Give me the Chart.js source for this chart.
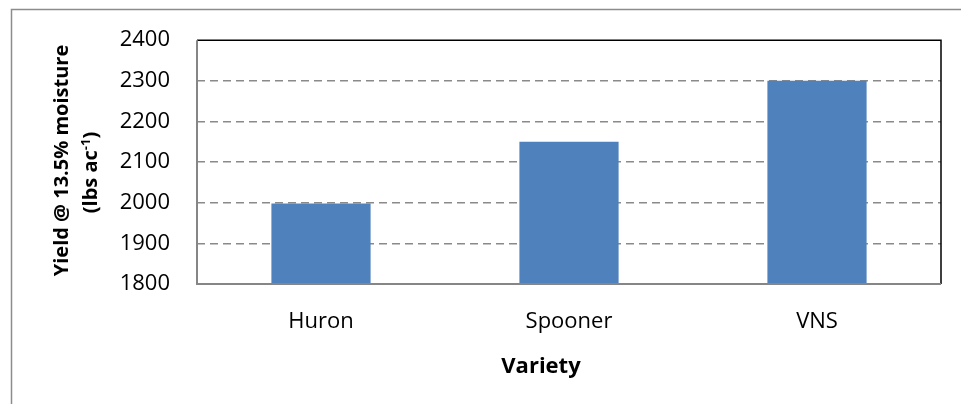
<!DOCTYPE html>
<html>
<head>
<meta charset="utf-8">
<script src="https://cdn.jsdelivr.net/npm/chart.js@4.4.0/dist/chart.umd.min.js"></script>
<style>
  html, body { margin: 0; padding: 0; background: #fff; }
  #wrap { width: 961px; height: 404px; position: relative; }
</style>
</head>
<body>
<div id="wrap"><canvas id="chart" width="961" height="404"></canvas></div>
<script>
// Chart data
const varieties = ['Huron', 'Spooner', 'VNS'];
const yieldValues = [1998, 2150, 2300];
const yMin = 1800;
const yMax = 2400;
const yStep = 100;

const FONT = '"Open Sans", sans-serif';
const GRID_GRAY = '#8a8a8a';

// Outer chart frame, cut off on the right and bottom like the original
const outerFrame = {
    id: 'outerFrame',
    beforeDraw(chart) {
        const ctx = chart.ctx;
        ctx.save();
        ctx.strokeStyle = '#8c8c8c';
        ctx.lineWidth = 1.5;
        ctx.beginPath();
        ctx.moveTo(11.5, 404);
        ctx.lineTo(11.5, 9.5);
        ctx.lineTo(961, 9.5);
        ctx.stroke();
        ctx.restore();
    }
};

// Plot area border + axis lines, and the axis titles
const plotFrame = {
    id: 'plotFrame',
    afterDraw(chart) {
        const ctx = chart.ctx;
        const a = chart.chartArea;
        ctx.save();

        // top and right border (black)
        ctx.strokeStyle = '#000';
        ctx.lineWidth = 1.5;
        ctx.beginPath();
        ctx.moveTo(a.left, a.top);
        ctx.lineTo(a.right, a.top);
        ctx.lineTo(a.right, a.bottom);
        ctx.stroke();

        // left and bottom axis lines (gray)
        ctx.strokeStyle = '#868686';
        ctx.lineWidth = 2;
        ctx.beginPath();
        ctx.moveTo(a.left, a.top);
        ctx.lineTo(a.left, a.bottom);
        ctx.lineTo(a.right, a.bottom);
        ctx.stroke();

        // x axis title
        ctx.fillStyle = '#000';
        ctx.font = 'bold 22px ' + FONT;
        ctx.textAlign = 'center';
        ctx.textBaseline = 'alphabetic';
        ctx.fillText('Variety', 541, 373);

        // y axis title, two lines, rotated
        ctx.save();
        ctx.translate(67.5, 160.5);
        ctx.rotate(-Math.PI / 2);
        ctx.font = 'bold 20px ' + FONT;
        ctx.fillText('Yield @ 13.5% moisture', 0, 0);
        ctx.restore();

        ctx.save();
        ctx.translate(97, 172.5);
        ctx.rotate(-Math.PI / 2);
        ctx.textAlign = 'left';
        const partA = '(lbs ac';
        const partSup = '-1';
        const partB = ')';
        ctx.font = 'bold 20px ' + FONT;
        const wA = ctx.measureText(partA).width;
        const wB = ctx.measureText(partB).width;
        ctx.font = 'bold 13px ' + FONT;
        const wS = ctx.measureText(partSup).width;
        let x = -(wA + wS + wB) / 2;
        ctx.font = 'bold 20px ' + FONT;
        ctx.fillText(partA, x, 0);
        x += wA;
        ctx.font = 'bold 13px ' + FONT;
        ctx.fillText(partSup, x, -7);
        x += wS;
        ctx.font = 'bold 20px ' + FONT;
        ctx.fillText(partB, x, 0);
        ctx.restore();

        ctx.restore();
    }
};

const ctx = document.getElementById('chart').getContext('2d');
new Chart(ctx, {
    type: 'bar',
    data: {
        labels: varieties,
        datasets: [{
            data: yieldValues,
            backgroundColor: '#4f81bd',
            borderWidth: 0,
            barPercentage: 0.4,
            categoryPercentage: 1.0
        }]
    },
    options: {
        responsive: false,
        animation: false,
        devicePixelRatio: 1,
        layout: { padding: { top: 39, right: 20, left: 0, bottom: 0 } },
        plugins: {
            legend: { display: false },
            tooltip: { enabled: false }
        },
        scales: {
            x: {
                grid: { display: false },
                border: { display: false },
                ticks: {
                    color: '#000',
                    font: { family: FONT, size: 22 },
                    padding: 17,
                    maxRotation: 0
                },
                afterFit(scale) { scale.height = 120; }
            },
            y: {
                min: yMin,
                max: yMax,
                grid: {
                    drawTicks: false,
                    lineWidth: 1.5,
                    color: c => (c.tick && (c.tick.value === yMin || c.tick.value === yMax)) ? 'rgba(0,0,0,0)' : GRID_GRAY
                },
                border: { display: false, dash: [8, 5] },
                ticks: {
                    stepSize: yStep,
                    color: '#000',
                    font: { family: FONT, size: 22 },
                    padding: 27,
                    callback: value => String(value)
                },
                afterFit(scale) { scale.width = 197; }
            }
        }
    },
    plugins: [outerFrame, plotFrame]
});
</script>
</body>
</html>
